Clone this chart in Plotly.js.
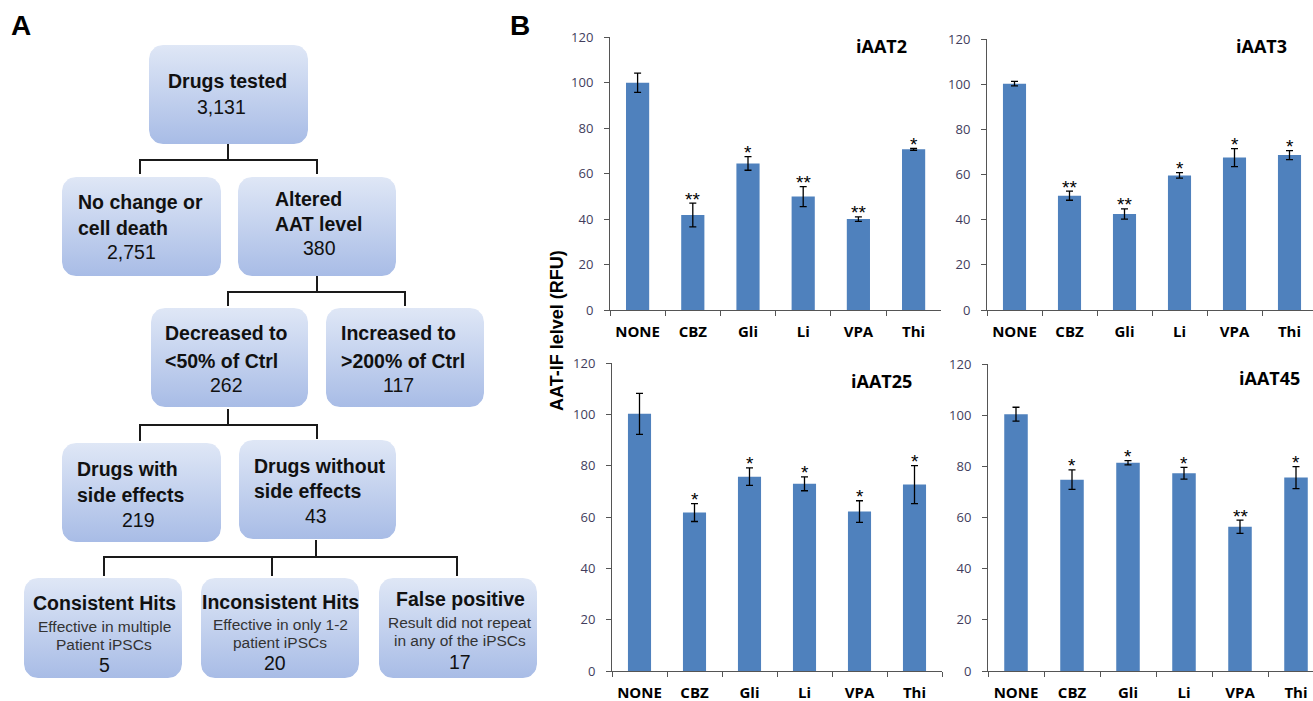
<!DOCTYPE html>
<html>
<head>
<meta charset="utf-8">
<script src="https://cdn.plot.ly/plotly-3.0.1.min.js"></script>
<style>html,body{margin:0;padding:0;background:#fff;}#chart{width:1313px;height:701px;}</style>
</head>
<body>
<div id="chart"></div>
<script>
// ---------------- DATA ----------------
const categories = ['NONE', 'CBZ', 'Gli', 'Li', 'VPA', 'Thi'];

const iAAT2_vals = [100.0, 41.8, 64.5, 49.9, 40.0, 70.7];
const iAAT2_err  = [4.2, 5.2, 3.0, 4.4, 1.0, 0.4];
const iAAT2_sig  = ['', '**', '*', '**', '**', '*'];

const iAAT3_vals = [100.2, 50.6, 42.5, 59.6, 67.5, 68.6];
const iAAT3_err  = [1.0, 2.0, 2.3, 1.2, 4.0, 2.0];
const iAAT3_sig  = ['', '**', '**', '*', '*', '*'];

const iAAT25_vals = [100.3, 61.8, 75.8, 73.0, 62.2, 72.7];
const iAAT25_err  = [8.0, 3.5, 3.4, 2.7, 4.2, 7.4];
const iAAT25_sig  = ['', '*', '*', '*', '*', '*'];

const iAAT45_vals = [100.4, 74.8, 81.4, 77.3, 56.4, 75.6];
const iAAT45_err  = [2.7, 3.8, 0.8, 2.3, 2.6, 4.3];
const iAAT45_sig  = ['', '*', '*', '*', '**', '*'];

const panelNames = ['iAAT2', 'iAAT3', 'iAAT25', 'iAAT45'];
const yTicks = [0, 20, 40, 60, 80, 100, 120];
const yAxisTitle = 'AAT-IF lelvel (RFU)';

// Flowchart content (layout in pixels)
const flowBoxes = [
  {x0:149, y0:45,  x1:308, y1:144},
  {x0:62,  y0:177, x1:221, y1:276},
  {x0:238, y0:177, x1:396, y1:276},
  {x0:151, y0:308, x1:308, y1:407},
  {x0:326, y0:308, x1:484, y1:407},
  {x0:62,  y0:443, x1:221, y1:542},
  {x0:239, y0:440, x1:396, y1:539},
  {x0:24,  y0:578, x1:182, y1:678},
  {x0:201, y0:578, x1:359, y1:678},
  {x0:379, y0:578, x1:537, y1:678}
];
const flowTexts = [
  ['Drugs tested', 227, 81, 'center', 'b'], ['3,131', 221, 107, 'center', 'n'],
  ['No change or', 76, 202, 'left', 'b'], ['cell death', 76, 228, 'left', 'b'], ['2,751', 131, 252, 'center', 'n'],
  ['Altered', 273, 199, 'left', 'b'], ['AAT level', 273, 224, 'left', 'b'], ['380', 319, 248, 'center', 'n'],
  ['Decreased to', 163, 333, 'left', 'b'], ['<50% of Ctrl', 163, 361, 'left', 'b'], ['262', 226, 385, 'center', 'n'],
  ['Increased to', 339, 333, 'left', 'b'], ['>200% of Ctrl', 339, 361, 'left', 'b'], ['117', 398, 385, 'center', 'n'],
  ['Drugs with', 75, 469, 'left', 'b'], ['side effects', 75, 495, 'left', 'b'], ['219', 138, 520, 'center', 'n'],
  ['Drugs without', 252, 466, 'left', 'b'], ['side effects', 252, 491, 'left', 'b'], ['43', 316, 516, 'center', 'n'],
  ['Consistent Hits', 104, 603, 'center', 'b'], ['Effective in multiple', 104, 626, 'center', 's'], ['Patient iPSCs', 104, 644, 'center', 's'], ['5', 104, 665, 'center', 'n'],
  ['Inconsistent Hits', 280, 602, 'center', 'b'], ['Effective in only 1-2', 280, 624, 'center', 's'], ['patient iPSCs', 280, 642, 'center', 's'], ['20', 275, 663, 'center', 'n'],
  ['False positive', 460, 599, 'center', 'b'], ['Result did not repeat', 460, 622, 'center', 's'], ['in any of the iPSCs', 460, 640, 'center', 's'], ['17', 460, 662, 'center', 'n']
];
const connectorPaths = [
  'M228,144 V160 M140,174 V160 H317 V174',
  'M317,276 V292 M228,306 V292 H405 V306',
  'M228,409 V425 M140,441 V425 H317 V439',
  'M316,540 V557 M104,576 V557 H457 V576 M272,557 V576'
];

// ---------------- BUILD ----------------
const W = 1313, H = 701;
const panels = [
  {vals: iAAT2_vals,  err: iAAT2_err,  sig: iAAT2_sig},
  {vals: iAAT3_vals,  err: iAAT3_err,  sig: iAAT3_sig},
  {vals: iAAT25_vals, err: iAAT25_err, sig: iAAT25_sig},
  {vals: iAAT45_vals, err: iAAT45_err, sig: iAAT45_sig}
];
// pixel geometry of each subplot
const geo = [
  {l:610, r:941,  t:37.3, b:310, cw:55.2, tx:881,  ty:46},
  {l:987, r:1313, t:39,   b:310, cw:55,   tx:1261, ty:46},
  {l:612, r:942,  t:363.3,b:671, cw:55,   tx:881,  ty:381},
  {l:988, r:1313, t:364,  b:671, cw:56,   tx:1269, ty:378}
];

const data = [];
const layout = {
  width: W, height: H,
  margin: {l:0, r:0, t:0, b:0},
  paper_bgcolor: '#ffffff',
  plot_bgcolor: 'rgba(0,0,0,0)',
  showlegend: false,
  bargap: 0.58,
  annotations: [],
  shapes: []
};

panels.forEach((p, i) => {
  const n = i + 1;
  const xa = n === 1 ? 'x' : 'x' + n;
  const ya = n === 1 ? 'y' : 'y' + n;
  const g = geo[i];
  data.push({
    type: 'bar', x: categories, y: p.vals, xaxis: xa, yaxis: ya,
    marker: {color: '#4f81bd', line: {width: 0}},
    error_y: {type: 'data', array: p.err, visible: true, color: '#000', thickness: 1.3, width: 3.5},
    hoverinfo: 'skip'
  });
  // significance stars above each error bar
  categories.forEach((c, k) => {
    if (!p.sig[k]) return;
    layout.annotations.push({
      text: p.sig[k], xref: xa, yref: ya, x: c, y: p.vals[k] + p.err[k],
      xanchor: 'center', yanchor: 'middle', yshift: 4, showarrow: false,
      font: {family: 'Liberation Sans, Arial, sans-serif', size: 19, color: '#000'}
    });
  });
  const width = g.r - g.l;
  const xmax = -0.5 + width / g.cw;
  layout['xaxis' + (n === 1 ? '' : n)] = {
    domain: [g.l / W, g.r / W], anchor: ya,
    type: 'category', range: [-0.5, xmax], fixedrange: true,
    showline: true, linecolor: '#555555', linewidth: 1,
    ticks: 'outside', tickson: 'boundaries', ticklen: 5, tickcolor: '#555555', tickwidth: 1,
    ticklabelstandoff: 8, tickangle: 0,
    tickfont: {family: 'Open Sans, sans-serif', size: 15, color: '#000', weight: 'bold'},
    showgrid: false, zeroline: false
  };
  layout['yaxis' + (n === 1 ? '' : n)] = {
    domain: [1 - g.b / H, 1 - g.t / H], anchor: xa,
    range: [0, 120], tickvals: yTicks, fixedrange: true,
    showline: true, linecolor: '#555555', linewidth: 1,
    ticks: 'outside', ticklen: 5, tickcolor: '#555555', tickwidth: 1,
    ticklabelstandoff: 8,
    tickfont: {family: 'Open Sans, sans-serif', size: 13, color: '#423d5c'},
    showgrid: false, zeroline: false
  };
  layout.annotations.push({
    text: '<b>' + panelNames[i] + '</b>', xref: 'paper', yref: 'paper',
    x: g.tx / W, y: 1 - g.ty / H, xanchor: 'center', yanchor: 'middle', showarrow: false,
    font: {family: 'Open Sans, sans-serif', size: 18, color: '#000'}
  });
});

// Shared y-axis title
layout.annotations.push({
  text: '<b>' + yAxisTitle + '</b>', xref: 'paper', yref: 'paper',
  x: 557 / W, y: 1 - 331 / H, xanchor: 'center', yanchor: 'middle', textangle: -90, showarrow: false,
  font: {family: 'Liberation Sans, Arial, sans-serif', size: 18, color: '#000'}
});
// Panel labels
[['A', 21, 26], ['B', 520, 26]].forEach(([t, x, y]) => {
  layout.annotations.push({
    text: '<b>' + t + '</b>', xref: 'paper', yref: 'paper', x: x / W, y: 1 - y / H,
    xanchor: 'center', yanchor: 'middle', showarrow: false,
    font: {family: 'Liberation Sans, Arial, sans-serif', size: 28, color: '#000'}
  });
});

// Flowchart axes (pixel coordinates)
layout.xaxis5 = {domain: [0, 545 / W], range: [0, 545], visible: false, fixedrange: true, anchor: 'y5'};
layout.yaxis5 = {domain: [0, 1], range: [H, 0], visible: false, fixedrange: true, anchor: 'x5'};

function roundRect(b, r) {
  const xs = [], ys = [];
  const corners = [
    [b.x1 - r, b.y0 + r, -Math.PI / 2, 0],
    [b.x1 - r, b.y1 - r, 0, Math.PI / 2],
    [b.x0 + r, b.y1 - r, Math.PI / 2, Math.PI],
    [b.x0 + r, b.y0 + r, Math.PI, 1.5 * Math.PI]
  ];
  corners.forEach(([cx, cy, a0, a1]) => {
    for (let k = 0; k <= 8; k++) {
      const a = a0 + (a1 - a0) * k / 8;
      xs.push(cx + r * Math.cos(a));
      ys.push(cy + r * Math.sin(a));
    }
  });
  xs.push(xs[0]); ys.push(ys[0]);
  return {xs, ys};
}
flowBoxes.forEach(b => {
  const rr = roundRect(b, 14);
  data.push({
    type: 'scatter', mode: 'lines', x: rr.xs, y: rr.ys, xaxis: 'x5', yaxis: 'y5',
    fill: 'toself', line: {width: 0, color: 'rgba(0,0,0,0)'},
    fillcolor: '#c3d1ee',
    fillgradient: {type: 'vertical', colorscale: [[0, '#a8bce6'], [1, '#dfe7f6']]},
    hoverinfo: 'skip'
  });
});
connectorPaths.forEach(pth => {
  layout.shapes.push({type: 'path', path: pth, xref: 'x5', yref: 'y5', line: {color: '#1a1a1a', width: 2}});
});
flowTexts.forEach(([t, x, y, anchor, style]) => {
  const size = style === 's' ? 15.5 : 19.5;
  const color = style === 's' ? '#333' : '#111';
  const safe = t.replace(/</g, '&lt;').replace(/>/g, '&gt;');
  layout.annotations.push({
    text: style === 'b' ? '<b>' + safe + '</b>' : safe,
    xref: 'x5', yref: 'y5', x: x, y: y, xanchor: anchor, yanchor: 'middle', showarrow: false,
    font: {family: 'Liberation Sans, Arial, sans-serif', size: size, color: color}
  });
});

Plotly.newPlot('chart', data, layout, {staticPlot: true, displayModeBar: false});
</script>
</body>
</html>
